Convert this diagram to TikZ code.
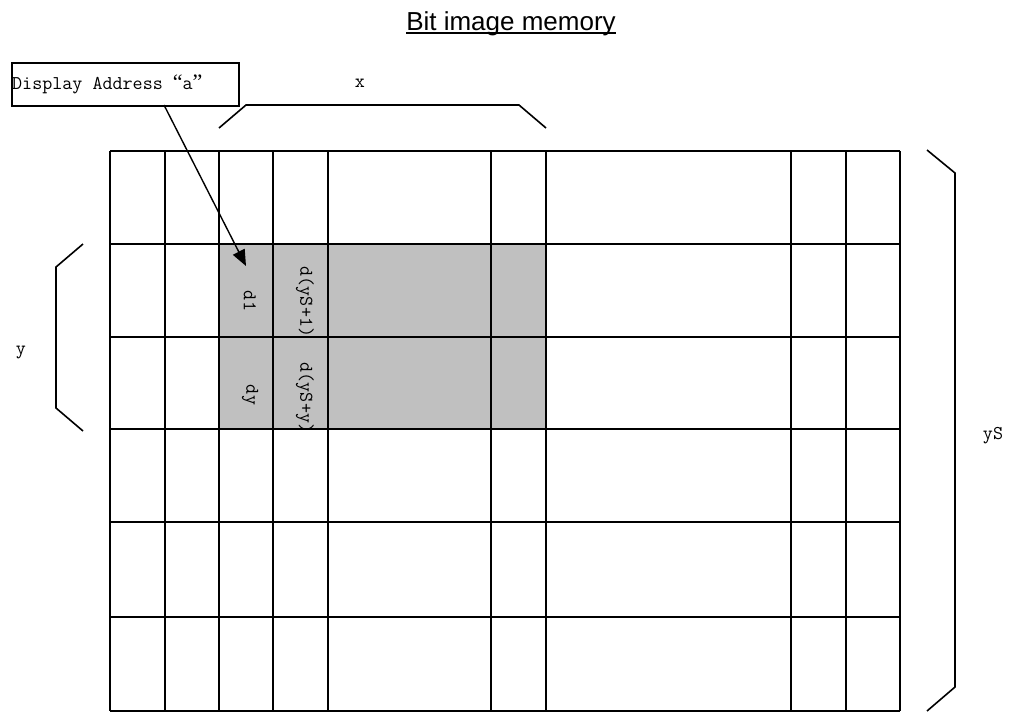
\documentclass[tikz,border=0pt]{standalone}
\usepackage{fontspec}
\newfontfamily\titlefont{Liberation Sans}
\newfontfamily\quotefont{Liberation Serif}
\usetikzlibrary{arrows.meta,calc}
\definecolor{cellgray}{RGB}{192,192,192}
\begin{document}
\begin{tikzpicture}[x=1pt,y=-1pt,
  gridline/.style={line width=1.6pt},
  bracket/.style={line width=1.6pt},
  lbl/.style={font=\fontsize{19.5}{19.5}\selectfont\ttfamily, inner sep=0pt},
  rlbl/.style={lbl, rotate=-90},
  addrbox/.style={draw, line width=1.6pt, minimum width=227pt, minimum height=43pt, inner sep=0pt, anchor=north west},
  pointer/.style={line width=1.4pt, -{Triangle[length=16pt,width=13pt]}},
]
\useasboundingbox (0,0) rectangle (1016,713);

% title
\node[font=\fontsize{26}{26}\selectfont\titlefont, inner sep=0pt, anchor=base] (title) at (511,30) {Bit image memory};
\draw[line width=1.8pt] ($(title.base west)+(0,3)$) -- ($(title.base east)+(0,3)$);

% shaded area
\fill[cellgray] (219,244) rectangle (546,429);

% rotated labels inside cells
\node[rlbl] (d1) at (250,301) {d1};
\node[rlbl] (dys1) at (305,302) {d(yS+1)};
\node[rlbl] (dy) at (250,395) {dy};
\node[rlbl] (dysy) at (305,398) {d(yS+y)};

% grid
\foreach \xx in {110,165,219,273,328,491,546,791,846,900}
  \draw[gridline] (\xx,151) -- (\xx,711);
\foreach \yy in {151,244,337,429,522,617,711}
  \draw[gridline] (110,\yy) -- (900,\yy);

% address box
\node[addrbox] (addr) at (11,62) {};
\node[lbl, anchor=base west] (addrtext) at (12,89) {Display Address {\quotefont\fontsize{22}{22}\selectfont “}a{\quotefont\fontsize{22}{22}\selectfont ”}};
\coordinate (astart) at (164,105);
\coordinate (atip) at (246,266);
\draw[pointer] (astart) -- (atip);

% x bracket
\coordinate (xa) at (219,128);
\coordinate (xb) at (246,105);
\coordinate (xc) at (519,105);
\coordinate (xd) at (546,128);
\draw[bracket] (xa) -- (xb) -- (xc) -- (xd);
\node[lbl] (xlab) at (360,83) {x};

% y bracket
\coordinate (ya) at (83,244);
\coordinate (yb) at (56,267);
\coordinate (yc) at (56,408);
\coordinate (yd) at (83,431);
\draw[bracket] (ya) -- (yb) -- (yc) -- (yd);
\node[lbl] (ylab) at (21,353) {y};

% yS bracket
\coordinate (sa) at (927,150);
\coordinate (sb) at (955,173);
\coordinate (sc) at (955,687);
\coordinate (sd) at (927,711);
\draw[bracket] (sa) -- (sb) -- (sc) -- (sd);
\node[lbl] (slab) at (993,436) {yS};
\end{tikzpicture}
\end{document}
